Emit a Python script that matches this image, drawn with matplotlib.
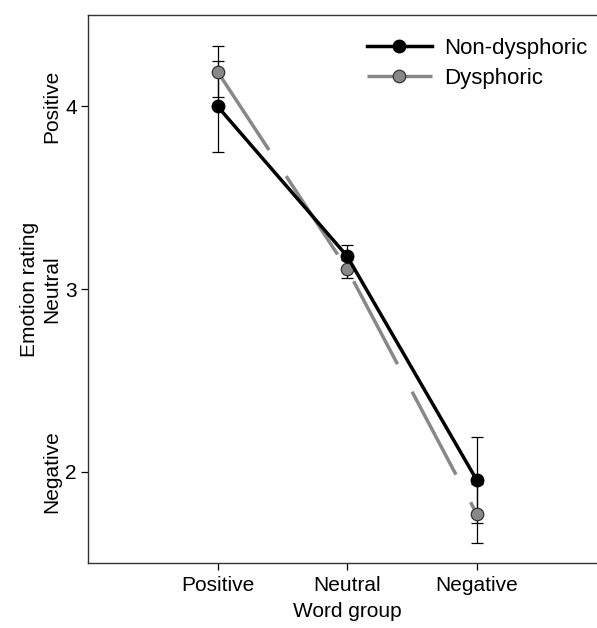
import matplotlib.pyplot as plt
import matplotlib.transforms as mtransforms

plt.rcParams['font.family'] = ['Liberation Sans', 'DejaVu Sans']

# data
word_groups = ["Positive", "Neutral", "Negative"]
non_dys_mean = [4.00, 3.18, 1.955]
non_dys_err = [0.25, 0.06, 0.235]
dys_mean = [4.19, 3.11, 1.77]
dys_err = [0.14, 0.05, 0.16]
y_ticks = [2, 3, 4]
y_categories = ["Negative", "Neutral", "Positive"]

x = [1, 2, 3]
fs = 15

fig = plt.figure(figsize=(5.97, 6.28), dpi=100)
ax = fig.add_axes([0.1474, 0.1035, 0.868, 0.8726])

# dysphoric (grey, dashed)
ax.errorbar(x, dys_mean, yerr=dys_err, fmt='none', ecolor='black',
            elinewidth=0.9, capsize=4, capthick=0.9, zorder=2)
ax.plot(x, dys_mean, color='#888888', lw=2.5, linestyle=(0, (27, 9)),
        marker='o', markersize=9, markerfacecolor='#888888',
        markeredgecolor='#333333', markeredgewidth=0.9,
        label="Dysphoric", zorder=3)

# non-dysphoric (black)
ax.errorbar(x, non_dys_mean, yerr=non_dys_err, fmt='none', ecolor='black',
            elinewidth=0.9, capsize=4, capthick=0.9, zorder=2)
ax.plot(x, non_dys_mean, color='black', lw=2.5, marker='o', markersize=9,
        label="Non-dysphoric", zorder=4)

ax.set_xlim(0, 4)
ax.set_ylim(1.5, 4.5)
ax.set_xticks(x)
ax.set_xticklabels(word_groups)
ax.set_yticks(y_ticks)
ax.tick_params(labelsize=fs, length=5, width=0.9, direction='out', pad=3)
ax.tick_params(axis='x', pad=4)

for s in ['left', 'bottom', 'top']:
    ax.spines[s].set_linewidth(1.0)
    ax.spines[s].set_color('#333333')
ax.spines['right'].set_visible(False)

ax.set_xlabel("Word group", fontsize=fs, va='center')
ax.xaxis.set_label_coords(0.5, -0.0894)
ax.set_ylabel("Emotion rating", fontsize=fs, va='center')
ax.yaxis.set_label_coords(-0.112, 0.5)

# category labels next to the numeric ticks
trans = mtransforms.blended_transform_factory(ax.transAxes, ax.transData)
for yv, lab in zip(y_ticks, y_categories):
    ax.text(-0.0695, yv, lab, transform=trans, rotation=90,
            ha='center', va='center', fontsize=fs)

handles, labels = ax.get_legend_handles_labels()
ax.legend(handles[::-1], labels[::-1], loc='upper left',
          bbox_to_anchor=(0.5, 0.995), frameon=False, fontsize=16,
          handlelength=2.9, handletextpad=0.55, labelspacing=0.4)

fig.savefig("out.png", dpi=100)
